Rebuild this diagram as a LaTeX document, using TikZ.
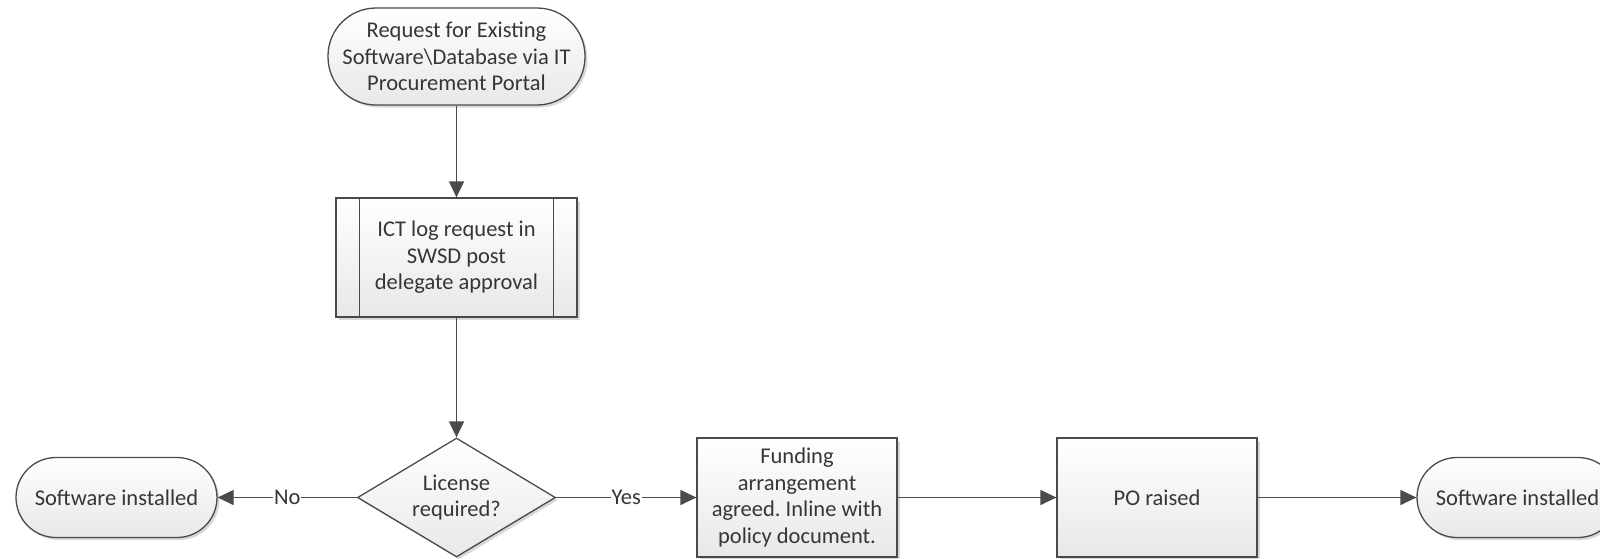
\documentclass[tikz,border=0pt]{standalone}
\usepackage{fontspec}
\setmainfont{Carlito}
\frenchspacing
\usetikzlibrary{shapes.geometric,shadows,arrows.meta}
\definecolor{edge}{HTML}{4A4A4A}
\definecolor{txt}{HTML}{363636}
\tikzset{
  base/.style={draw=edge, line width=1.3pt, top color=white, bottom color=black!9,
    drop shadow={shadow xshift=2.5pt, shadow yshift=-2.5pt, fill=black!25, opacity=0.6},
    text=txt, align=center, font=\fontsize{22.5}{26.5}\selectfont, inner sep=0pt},
  term/.style={base, rectangle, rounded corners=40pt},
  procbox/.style={base, rectangle},
  decision/.style={base, diamond, shape aspect=1.66},
  conn/.style={draw=edge, line width=1.3pt, -{Triangle[length=16pt,width=15pt]}},
  lbl/.style={fill=white, text=txt, font=\fontsize{22.5}{26.5}\selectfont, inner sep=1pt}
}
\begin{document}
\begin{tikzpicture}[x=1pt,y=-1pt]
\useasboundingbox (0,0) rectangle (1600,558);
\node[term, rounded corners=48pt, minimum width=257pt, minimum height=97pt] (start) at (456.5,56.5)
  {Request for Existing\\Software\textbackslash Database via IT\\Procurement Portal};
\node[procbox, minimum width=241pt, minimum height=119pt] (ict) at (456.5,257.5)
  {ICT log request in\\SWSD post\\delegate approval};
\draw[edge, line width=1.3pt] ([xshift=24pt]ict.north west) -- ([xshift=24pt]ict.south west);
\draw[edge, line width=1.3pt] ([xshift=-24pt]ict.north east) -- ([xshift=-24pt]ict.south east);
\node[decision, minimum width=198pt, minimum height=119pt] (lic) at (456.5,497.5)
  {License\\required?};
\node[term, minimum width=201pt, minimum height=80pt] (swl) at (116.5,497.5)
  {Software installed};
\node[procbox, minimum width=200pt, minimum height=119pt] (fund) at (797,497.5)
  {Funding\\arrangement\\agreed. Inline with\\policy document.};
\node[procbox, minimum width=200pt, minimum height=119pt] (po) at (1157,497.5)
  {PO raised};
\node[term, minimum width=201pt, minimum height=80pt] (swr) at (1517.5,497.5)
  {Software installed};
\draw[conn] (start) -- (ict);
\draw[conn] (ict) -- (lic);
\draw[conn] (lic) -- node[lbl] {No} (swl);
\draw[conn] (lic) -- node[lbl] {Yes} (fund);
\draw[conn] (fund) -- (po);
\draw[conn] (po) -- (swr);
\end{tikzpicture}
\end{document}
